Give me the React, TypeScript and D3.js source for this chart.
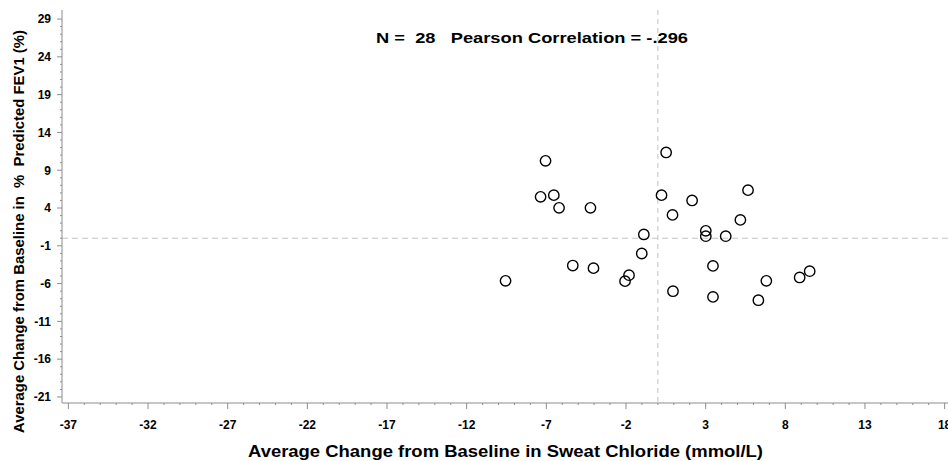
import * as d3 from 'd3';

// average change from baseline, one entry per subject
const sweatChloride = [
  -9.56, -7.05, -7.36, -6.53, -6.2, -4.23, -5.34, -4.04, -1.81, -2.06,
  -0.88, -1.01, 0.52, 0.23, 0.92, 0.95, 2.15, 3.01, 3.01, 4.26,
  3.46, 3.46, 5.18, 5.66, 6.81, 6.31, 8.9, 9.53,
];
const fev1 = [
  -5.64, 10.24, 5.48, 5.7, 4.02, 4.02, -3.61, -3.96, -4.89, -5.68,
  0.5, -2.02, 11.35, 5.7, 3.09, -7.01, 5.0, 0.98, 0.27, 0.27,
  -3.66, -7.76, 2.43, 6.36, -5.64, -8.2, -5.19, -4.36,
];
const xTicks = [-37, -32, -27, -22, -17, -12, -7, -2, 3, 8, 13, 18];
const yTicks = [29, 24, 19, 14, 9, 4, -1, -6, -11, -16, -21];
const annotation = 'N =  28   Pearson Correlation = -.296';
const xTitle = 'Average Change from Baseline in Sweat Chloride (mmol/L)';
const yTitle = 'Average Change from Baseline in  %  Predicted FEV1 (%)';

const W = 948;
const H = 461;
const FONT = '"Liberation Sans", Arial, sans-serif';
const AXIS = '#8c8c8c';

export default function App() {
  const x = d3.scaleLinear().domain([-37.4, 18.4]).range([62, 951]);
  const y = d3.scaleLinear().domain([-21.8, 30.2]).range([403, 10]);

  const [x0] = x.range();
  const [y0, y1] = y.range();

  // minor ticks every unit
  const xMinor = d3.range(-37, 19, 1).filter(v => !xTicks.includes(v));
  const yMinor = d3.range(-21, 30, 1).filter(v => !yTicks.includes(v));

  return (
    <div style={{ position: 'absolute', left: 0, top: 0 }}>
      <svg width={W} height={H} style={{ display: 'block', background: '#fff' }}>
        {/* reference lines at zero */}
        <line x1={x(0)} x2={x(0)} y1={y1} y2={y0} stroke="#c4c4c4" strokeDasharray="5,4" />
        <line x1={x0} x2={W} y1={y(0)} y2={y(0)} stroke="#c4c4c4" strokeDasharray="6,4" strokeWidth={1.2} />

        {/* y axis */}
        <line x1={x0} x2={x0} y1={y1} y2={y0} stroke={AXIS} />
        {yMinor.map(v => (
          <line key={'ym' + v} x1={x0 - 2} x2={x0} y1={y(v)} y2={y(v)} stroke={AXIS} />
        ))}
        {yTicks.map(v => (
          <g key={'y' + v}>
            <line x1={x0 - 5} x2={x0} y1={y(v)} y2={y(v)} stroke={AXIS} />
            <text x={x0 - 11} y={y(v)} dy="0.36em" textAnchor="end"
              fontFamily={FONT} fontWeight="bold" fontSize={12} fill="#000">{v}</text>
          </g>
        ))}

        {/* x axis */}
        <line x1={x0} x2={W} y1={y0} y2={y0} stroke={AXIS} />
        {xMinor.map(v => (
          <line key={'xm' + v} x1={x(v)} x2={x(v)} y1={y0} y2={y0 + 2} stroke={AXIS} />
        ))}
        {xTicks.map(v => (
          <g key={'x' + v}>
            <line x1={x(v)} x2={x(v)} y1={y0} y2={y0 + 6} stroke={AXIS} />
            <text x={x(v)} y={429} textAnchor="middle"
              fontFamily={FONT} fontWeight="bold" fontSize={12} fill="#000">{v}</text>
          </g>
        ))}

        {/* points */}
        {sweatChloride.map((v, i) => (
          <circle key={i} cx={x(v)} cy={y(fev1[i])} r={5.2}
            fill="none" stroke="#000" strokeWidth={1.4} />
        ))}

        <text x={532} y={43} textAnchor="middle" style={{ whiteSpace: 'pre' }}
          textLength={312} lengthAdjust="spacingAndGlyphs"
          fontFamily={FONT} fontWeight="bold" fontSize={15} fill="#000">{annotation}</text>

        <text x={505.5} y={457} textAnchor="middle"
          textLength={515} lengthAdjust="spacingAndGlyphs"
          fontFamily={FONT} fontWeight="bold" fontSize={17} fill="#000">{xTitle}</text>

        <text transform="translate(24,231.5) rotate(-90)" textAnchor="middle" style={{ whiteSpace: 'pre' }}
          textLength={403} lengthAdjust="spacingAndGlyphs"
          fontFamily={FONT} fontWeight="bold" fontSize={14} fill="#000">{yTitle}</text>
      </svg>
    </div>
  );
}
